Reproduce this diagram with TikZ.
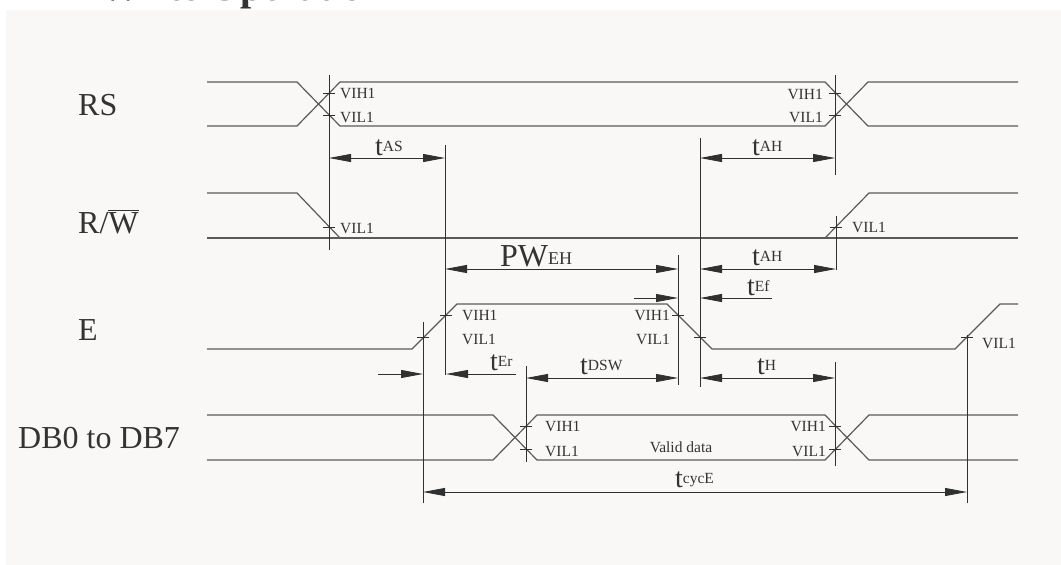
\documentclass[tikz,border=0pt]{standalone}
\usepackage{fontspec}
\setmainfont{Liberation Serif}
\usetikzlibrary{arrows.meta}
\definecolor{bgpanel}{HTML}{F9F8F7}
\definecolor{sigc}{HTML}{5A5A5A}
\definecolor{dimc}{HTML}{303030}
\definecolor{txtc}{HTML}{333333}
\newcommand{\tsym}[1]{{\fontsize{28}{28}\selectfont t}\raisebox{4pt}{\fontsize{15.5}{15.5}\selectfont #1}}
\begin{document}
\begin{tikzpicture}[x=1pt,y=-1pt,
  sigline/.style={draw=sigc,line width=1.2pt,line join=miter},
  dimline/.style={draw=dimc,line width=0.8pt},
  dimboth/.style={dimline,{Triangle[length=22pt,width=8pt]}-{Triangle[length=22pt,width=8pt]}},
  dimto/.style={dimline,-{Triangle[length=22pt,width=8pt]}},
  lvl/.style={font=\fontsize{15.5}{15.5}\selectfont,text=txtc,inner sep=0pt},
  sname/.style={font=\fontsize{32}{32}\selectfont,text=txtc,inner sep=0pt,anchor=base west},
  tlab/.style={text=txtc,inner sep=0pt,anchor=base west},
  ]
\useasboundingbox (0,0) rectangle (1061,565);
\fill[white] (0,0) rectangle (1061,565);
\fill[bgpanel] (6,10) rectangle (1061,565);

% title (cut off at the top edge)
\begin{scope}
\clip (0,0) rectangle (1061,10);
\node[anchor=south west,inner sep=0pt,text=txtc,font=\fontsize{40}{40}\selectfont\bfseries] (title) at (100,9.5) {Write Operation};
\end{scope}

% signal names
\node[sname] (nRS) at (78,115) {RS};
\node[sname] (nRW) at (78,233) {R/$\overline{\hbox{W}}$};
\node[sname] (nE) at (78,340) {E};
\node[sname] (nDB) at (18,448) {DB0 to DB7};

% RS
\draw[sigline] (207,82) -- (297,82) -- (340,126) -- (825,126) -- (868,82) -- (1018,82);
\draw[sigline] (207,126) -- (297,126) -- (340,82) -- (825,82) -- (868,126) -- (1018,126);
% R/W
\draw[sigline] (207,193) -- (297,193) -- (340,238);
\draw[sigline] (207,238) -- (1018,238);
\draw[sigline] (825,238) -- (869,193) -- (1018,193);
% E
\draw[sigline] (207,349) -- (412,349) -- (457,304) -- (667,304) -- (712,349) -- (955,349) -- (1000,304) -- (1018,304);
% DB
\draw[sigline] (207,415) -- (493,415) -- (537,460) -- (825,460) -- (869,415) -- (1018,415);
\draw[sigline] (207,460) -- (493,460) -- (537,415) -- (825,415) -- (869,460) -- (1018,460);

% reference coordinates for extension lines
\coordinate (a1) at (329,75);  \coordinate (a2) at (329,250);
\coordinate (b1) at (835,75);  \coordinate (b2) at (835,175);
\coordinate (c1) at (445,145); \coordinate (c2) at (445,375);
\coordinate (d1) at (700,138); \coordinate (d2) at (700,387);
\coordinate (e1) at (836,216); \coordinate (e2) at (836,270);
\coordinate (f1) at (678,255); \coordinate (f2) at (678,385);
\coordinate (g1) at (526,366); \coordinate (g2) at (526,462);
\coordinate (h1) at (835,362); \coordinate (h2) at (835,466);
\coordinate (i1) at (423,322); \coordinate (i2) at (423,503);
\coordinate (j1) at (967,335); \coordinate (j2) at (967,503);
\foreach \p in {a,b,c,d,e,f,g,h,i,j} \draw[dimline] (\p1) -- (\p2);

% level ticks
\foreach \x/\y in {329/93,329/115,835/93,835/115,329/227,836/227,
                   423/337,446/315,678/315,700/337,967/337,
                   526/426,526/449,835/426,835/449}
  \draw[dimline] (\x-6,\y) -- (\x+6,\y);

% level labels
\node[lvl,anchor=west] (l1) at (340,93) {VIH1};
\node[lvl,anchor=west] (l2) at (340,117) {VIL1};
\node[lvl,anchor=east] (l3) at (823,94) {VIH1};
\node[lvl,anchor=east] (l4) at (823,117) {VIL1};
\node[lvl,anchor=west] (l5) at (340,228) {VIL1};
\node[lvl,anchor=west] (l6) at (852,227) {VIL1};
\node[lvl,anchor=west] (l7) at (462,315) {VIH1};
\node[lvl,anchor=west] (l8) at (462,339) {VIL1};
\node[lvl,anchor=east] (l9) at (670,315) {VIH1};
\node[lvl,anchor=east] (l10) at (670,339) {VIL1};
\node[lvl,anchor=west] (l11) at (982,343) {VIL1};
\node[lvl,anchor=west] (l12) at (545,426) {VIH1};
\node[lvl,anchor=west] (l13) at (545,451) {VIL1};
\node[lvl,anchor=east] (l14) at (826,426) {VIH1};
\node[lvl,anchor=east] (l15) at (826,451) {VIL1};
\node[lvl] (valid) at (681,447) {Valid data};

% dimension arrows
\coordinate (tas1) at (329,158); \coordinate (tas2) at (445,158);
\draw[dimboth] (tas1) -- (tas2);
\coordinate (tah1) at (700,158); \coordinate (tah2) at (835,158);
\draw[dimboth] (tah1) -- (tah2);
\coordinate (pw1) at (445,269); \coordinate (pw2) at (678,269);
\draw[dimboth] (pw1) -- (pw2);
\coordinate (tahb1) at (700,269); \coordinate (tahb2) at (836,269);
\draw[dimboth] (tahb1) -- (tahb2);
\coordinate (tef0) at (634,298); \coordinate (tef1) at (678,298);
\coordinate (tef2) at (700,298); \coordinate (tef3) at (772,298);
\draw[dimto] (tef0) -- (tef1);
\draw[dimto] (tef3) -- (tef2);
\coordinate (ter0) at (378,374); \coordinate (ter1) at (423,374);
\coordinate (ter2) at (446,374); \coordinate (ter3) at (516,374);
\draw[dimto] (ter0) -- (ter1);
\draw[dimto] (ter3) -- (ter2);
\coordinate (tdsw1) at (526,378); \coordinate (tdsw2) at (678,378);
\draw[dimboth] (tdsw1) -- (tdsw2);
\coordinate (th1) at (700,378); \coordinate (th2) at (835,378);
\draw[dimboth] (th1) -- (th2);
\coordinate (tcy1) at (423,492); \coordinate (tcy2) at (967,492);
\draw[dimboth] (tcy1) -- (tcy2);

% timing labels
\node[tlab] (lAS) at (375,155) {\tsym{AS}};
\node[tlab] (lAH) at (752,155) {\tsym{AH}};
\node[tlab] (lPW) at (500,266) {{\fontsize{32}{32}\selectfont PW}\raisebox{2pt}{\fontsize{18}{18}\selectfont EH}};
\node[tlab] (lAH2) at (752,265) {\tsym{AH}};
\node[tlab] (lEf) at (747,295) {\tsym{Ef}};
\node[tlab] (lEr) at (490,370) {\tsym{Er}};
\node[tlab] (lDSW) at (580,374) {\tsym{DSW}};
\node[tlab] (lH) at (757,374) {\tsym{H}};
\node[tlab] (lcyc) at (675,487) {\tsym{cycE}};
\end{tikzpicture}
\end{document}
